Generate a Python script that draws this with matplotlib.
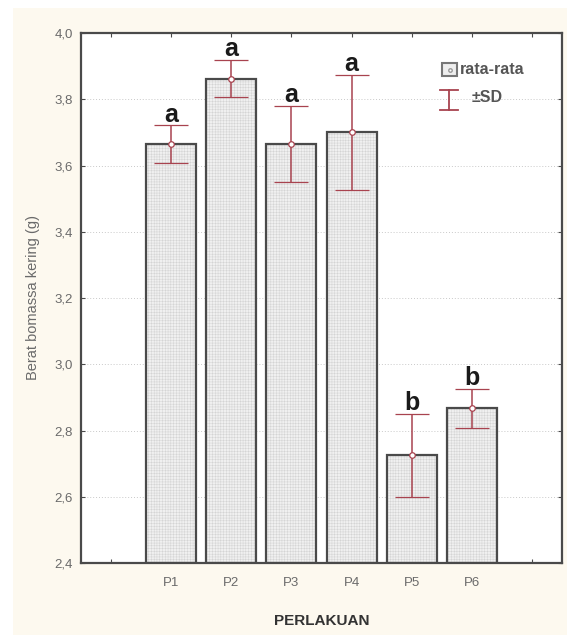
from matplotlib import pyplot as plt
from matplotlib.patches import Rectangle
from matplotlib.lines import Line2D

# data
categories = ["P1", "P2", "P3", "P4", "P5", "P6"]
means = [3.665, 3.862, 3.665, 3.700, 2.725, 2.867]
sds = [0.056, 0.056, 0.116, 0.173, 0.126, 0.058]
letters = ["a", "a", "a", "a", "b", "b"]
yticks = [2.4, 2.6, 2.8, 3.0, 3.2, 3.4, 3.6, 3.8, 4.0]

cream = "#fdf9ef"
err_col = "#a8434f"
edge_col = "#4a4a4a"
label_col = "#6a6a6a"

plt.rcParams['font.family'] = ['Liberation Sans Narrow', 'Liberation Sans', 'DejaVu Sans']
plt.rcParams['hatch.linewidth'] = 0.3
plt.rcParams['hatch.color'] = '#c8c8c8'

fig = plt.figure(figsize=(5.67, 6.35), dpi=100, facecolor="white")
# cream background panel
fig.patches.append(Rectangle((13 / 567, 0), 1, 1 - 8 / 635, transform=fig.transFigure,
                             facecolor=cream, edgecolor="none", zorder=-10))

ax = fig.add_axes([81 / 567, 1 - 563 / 635, 481 / 567, 530 / 635])
ax.set_facecolor("white")

x = list(range(1, len(categories) + 1))
base = 2.4
heights = [m - base for m in means]

# hatched light fill, then dark outline on top
ax.bar(x, heights, bottom=base, width=0.83, color="#f0f0f0", edgecolor="#cfcfcf",
       hatch="++++++", linewidth=0, zorder=2)
ax.bar(x, heights, bottom=base, width=0.83, fill=False, edgecolor=edge_col,
       linewidth=1.6, zorder=3)

ax.errorbar(x, means, yerr=sds, fmt="o", color=err_col, ecolor=err_col,
            elinewidth=1.1, capsize=12.5, capthick=1.2, markersize=4,
            markerfacecolor="white", markeredgecolor=err_col, markeredgewidth=0.9, zorder=4)

for xi, m, s, t in zip(x, means, sds, letters):
    ax.text(xi, m + s - 0.004, t, ha="center", va="bottom", fontsize=18,
            fontweight="bold", color="#1a1a1a", zorder=5)

ax.set_xlim(-0.5, 7.5)
ax.set_ylim(2.4, 4.0)
ax.set_xticks(range(0, 8))
ax.set_xticklabels([""] + categories + [""])
ax.set_yticks(yticks)
ax.set_yticklabels([f"{v:.1f}".replace(".", ",") for v in yticks])

ax.grid(axis="y", color="#c9c9c9", linestyle=(0, (1, 2)), linewidth=0.7, zorder=0)
ax.set_axisbelow(True)

ax.tick_params(direction="in", length=3, width=0.8, color=edge_col,
               labelsize=9.5, labelcolor=label_col, top=True, right=True, pad=6)
ax.tick_params(axis="x", pad=10)
for sp in ax.spines.values():
    sp.set_color(edge_col)
    sp.set_linewidth(1.6)

ax.set_ylabel("Berat bomassa kering (g)", fontsize=10.5, color=label_col, labelpad=10)
ax.set_xlabel("PERLAKUAN", fontsize=11, fontweight="bold", color="#333333", labelpad=18)

# legend drawn by hand to mimic the original glyphs
ax.add_patch(Rectangle((442, 635 - 76), 15, 13, transform=None, facecolor="#eeeeee",
                       edgecolor="#777777", linewidth=1.5, zorder=6))
ax.add_line(Line2D([449.5], [635 - 69.5], transform=None, marker="o", markersize=2.5,
                   markerfacecolor="white", markeredgecolor="#999999", zorder=7))
fig.text(460 / 567, 1 - 69 / 635, "rata-rata", fontsize=11.5, fontweight="bold",
         color="#555555", va="center")
for seg in ([440, 458], [635 - 90, 635 - 90]), ([440, 458], [635 - 110, 635 - 110]), \
        ([449, 449], [635 - 90, 635 - 110]):
    ax.add_line(Line2D(seg[0], seg[1], transform=None, color=err_col, linewidth=1.3, zorder=6))
fig.text(472 / 567, 1 - 98 / 635, "±SD", fontsize=11.5, fontweight="bold",
         color="#555555", va="center")

fig.savefig("out.png", dpi=100, facecolor=fig.get_facecolor())
